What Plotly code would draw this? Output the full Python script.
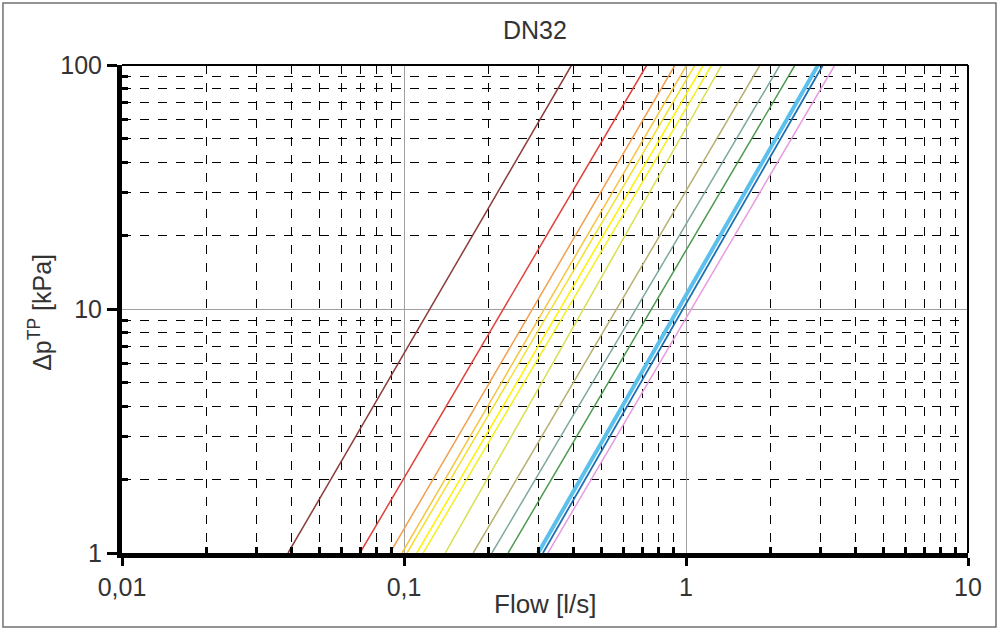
import plotly.graph_objects as go

# Flow [l/s] read at dp = 1 kPa and dp = 100 kPa for each curve
flow_at_1kpa = [0.0388, 0.0698, 0.0892, 0.0984, 0.1025, 0.111, 0.117, 0.140,
                0.176, 0.205, 0.234, 0.299, 0.311, 0.324]
flow_at_100kpa = [0.393, 0.726, 0.914, 1.006, 1.076, 1.152, 1.233, 1.339,
                  1.830, 2.154, 2.435, 2.94, 3.06, 3.37]
dp_ends = [1, 100]
line_colors = ["#8C3B3B", "#E2403A", "#F0A050", "#F5C542", "#F2E030", "#FFF200",
               "#F4F020", "#D8E050", "#B8B070", "#7FA8A0", "#4E9A4E", "#5BC0EB",
               "#1F6FB0", "#E89BE0"]
line_widths = [1.5, 1.5, 1.5, 1.5, 1.5, 1.5, 1.5, 1.5, 1.5, 1.5, 1.5, 4, 1.8, 1.5]

x_tickvals = [0.01, 0.1, 1, 10]
x_ticktext = ["0,01", "0,1", "1", "10"]
y_tickvals = [1, 10, 100]
y_ticktext = ["1", "10", "100"]
x_minor = [m * d for d in [0.01, 0.1, 1] for m in range(2, 10)]
y_minor = [m * d for d in [1, 10] for m in range(2, 10)]

fig = go.Figure()
for q1, q100, c, w in zip(flow_at_1kpa, flow_at_100kpa, line_colors, line_widths):
    fig.add_trace(go.Scatter(x=[q1, q100], y=dp_ends, mode="lines",
                             line=dict(color=c, width=w), showlegend=False,
                             hoverinfo="skip"))

font = dict(family="Liberation Sans, Arial, sans-serif", size=25, color="#333333")
label_font = dict(family="Liberation Sans, Arial, sans-serif", size=26, color="#333333")

fig.update_layout(
    width=999, height=630,
    margin=dict(l=122, r=31, t=65, b=77),
    paper_bgcolor="white", plot_bgcolor="white",
    font=font,
    title=dict(text="DN32", x=0.488, xref="paper", y=0.952, yref="container",
               xanchor="center", yanchor="middle", font=dict(size=25, color="#333333")),
    xaxis=dict(type="log", range=[-2, 1], tickvals=x_tickvals, ticktext=x_ticktext,
               showgrid=True, gridcolor="#A0A0A0", gridwidth=1,
               showline=True, linecolor="black", linewidth=5,
               ticks="outside", ticklen=8, tickwidth=3, tickcolor="black",
               tickfont=font, zeroline=False, automargin=False,
               minor=dict(tickvals=x_minor, showgrid=True, gridcolor="black",
                          griddash="dash", gridwidth=1, ticks="inside",
                          ticklen=6, tickwidth=3, tickcolor="black")),
    yaxis=dict(type="log", range=[0, 2], tickvals=y_tickvals, ticktext=y_ticktext,
               showgrid=True, gridcolor="#A0A0A0", gridwidth=1,
               showline=True, linecolor="black", linewidth=5,
               ticks="outside", ticklen=10, tickwidth=3, tickcolor="black",
               tickfont=font, zeroline=False, automargin=False,
               minor=dict(tickvals=y_minor, showgrid=True, gridcolor="black",
                          griddash="dash", gridwidth=1, ticks="inside",
                          ticklen=6, tickwidth=3, tickcolor="black")),
    annotations=[
        dict(text="Flow [l/s]", x=0.5, y=-0.1045, xref="paper", yref="paper",
             showarrow=False, xanchor="center", yanchor="middle", font=label_font),
        dict(text="Δp<sup>TP</sup> [kPa]", x=-0.097, y=0.494, xref="paper", yref="paper",
             showarrow=False, xanchor="center", yanchor="middle", textangle=-90,
             font=font),
    ],
    shapes=[
        dict(type="line", xref="paper", yref="paper", x0=0, x1=1, y0=1, y1=1,
             line=dict(color="black", width=2)),
        dict(type="line", xref="paper", yref="paper", x0=1, x1=1, y0=0, y1=1,
             line=dict(color="black", width=2)),
        dict(type="rect", xref="paper", yref="paper", x0=-0.1407, x1=1.0331,
             y0=-0.1516, y1=1.127, line=dict(color="#707070", width=1.5)),
    ],
)

fig.write_html("out.html", config={"displayModeBar": False},
               post_script="document.body.style.margin='0px';")
